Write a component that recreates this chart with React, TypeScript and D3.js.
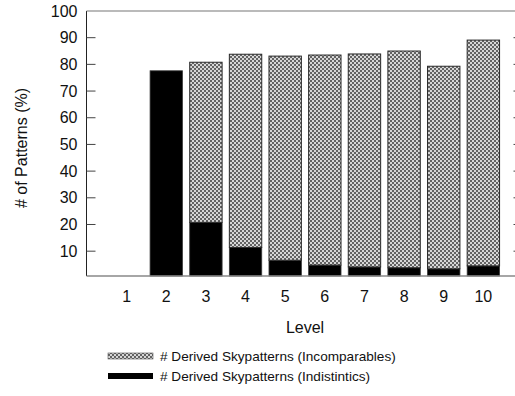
import React from "react";
import * as d3 from "d3";

const levels = [1, 2, 3, 4, 5, 6, 7, 8, 9, 10];
const indistinctics = [0, 77.6, 20.8, 11.4, 6.6, 4.8, 4.1, 3.8, 3.4, 4.5];
const incomparables = [0, 0, 60.0, 72.4, 76.5, 78.7, 79.8, 81.2, 75.9, 84.6];
const yTicks = [10, 20, 30, 40, 50, 60, 70, 80, 90, 100];
const seriesNames = [
  "# Derived Skypatterns (Incomparables)",
  "# Derived Skypatterns (Indistintics)",
];

const W = 515;
const H = 396;
const FONT = "Arial, 'Liberation Sans', Helvetica, sans-serif";

export default function App() {
  const x = d3.scaleLinear().domain([0, 11]).range([87, 523]);
  const yMin = 0.7;
  const y = d3.scaleLinear().domain([yMin, 100]).range([276, 11]);
  const barW = 32.4;
  const left = 86.5;
  const right = 522.5;
  const stack = levels.map((l, i) => ({
    level: l,
    ind: indistinctics[i],
    inc: incomparables[i],
  }));

  return (
    <svg
      width={W}
      height={H}
      style={{ position: "absolute", left: 0, top: 0, display: "block" }}
      fontFamily={FONT}
    >
      <defs>
        <pattern id="hatch" width={4} height={4} patternUnits="userSpaceOnUse">
          <rect width={4} height={4} fill="#7a7a7a" />
          <circle cx={1} cy={1} r={0.95} fill="#ffffff" />
          <circle cx={3} cy={3} r={0.95} fill="#ffffff" />
          <rect x={2.5} y={0.5} width={1} height={1} fill="#1e1e1e" />
          <rect x={0.5} y={2.5} width={1} height={1} fill="#1e1e1e" />
        </pattern>
      </defs>
      <rect width={W} height={H} fill="#fff" />

      {/* bars */}
      {stack.map((d) => {
        const cx = x(d.level);
        return (
          <g key={d.level}>
            {d.ind > 0 && (
              <rect
                x={cx - barW / 2}
                y={y(d.ind)}
                width={barW}
                height={y(yMin) - y(d.ind)}
                fill="#000"
                stroke="#3a3a3a"
                strokeWidth={0.8}
              />
            )}
            {d.inc > 0 && (
              <rect
                x={cx - barW / 2}
                y={y(d.ind + d.inc)}
                width={barW}
                height={y(d.ind) - y(d.ind + d.inc)}
                fill="url(#hatch)"
                stroke="#2a2a2a"
                strokeWidth={1}
              />
            )}
          </g>
        );
      })}

      {/* frame */}
      <line x1={left} x2={left} y1={11} y2={276} stroke="#222" strokeWidth={1} />
      <line x1={left} x2={right} y1={11} y2={11} stroke="#777" strokeWidth={1.2} />
      <line x1={left} x2={right} y1={276} y2={276} stroke="#888" strokeWidth={1.4} />

      {/* y ticks */}
      {yTicks.map((t) => (
        <g key={t}>
          {t < 100 && (
            <>
              <line x1={left} x2={left + 9} y1={y(t)} y2={y(t)} stroke="#444" strokeWidth={1} />
              <line x1={right - 9} x2={right} y1={y(t)} y2={y(t)} stroke="#444" strokeWidth={1} />
            </>
          )}
          <text
            x={77.5}
            y={y(t)}
            textAnchor="end"
            dominantBaseline="central"
            fontSize={16}
            fill="#111"
          >
            {t}
          </text>
        </g>
      ))}

      {/* x tick labels */}
      {levels.map((l) => (
        <text key={l} x={x(l)} y={302} textAnchor="middle" fontSize={16} fill="#111">
          {l}
        </text>
      ))}

      {/* axis titles */}
      <text x={305} y={333} textAnchor="middle" fontSize={16} fill="#111">
        Level
      </text>
      <text
        transform={`translate(27,148) rotate(-90)`}
        textAnchor="middle"
        fontSize={16}
        fill="#111"
      >
        # of Patterns (%)
      </text>

      {/* legend */}
      <rect x={108} y={353} width={45} height={6} fill="url(#hatch)" stroke="#555" strokeWidth={0.6} />
      <text x={160} y={361} fontSize={13.6} fill="#111">
        {seriesNames[0]}
      </text>
      <rect x={108} y={373} width={45} height={6} fill="#000" />
      <text x={160} y={381} fontSize={13.6} fill="#111">
        {seriesNames[1]}
      </text>
    </svg>
  );
}
